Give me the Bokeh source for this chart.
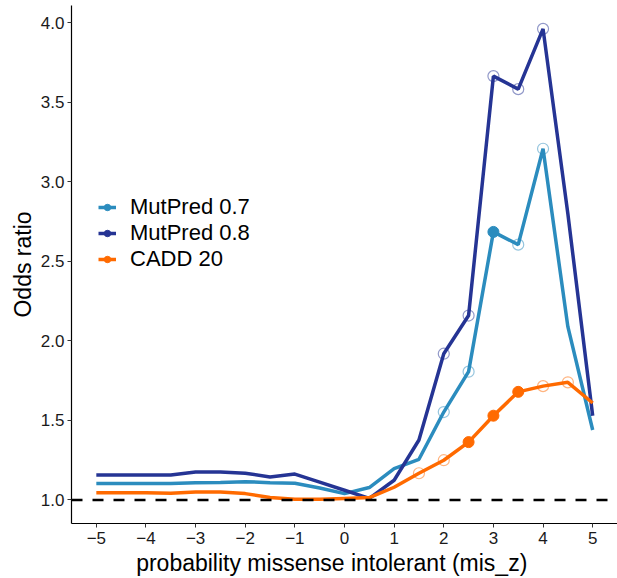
from bokeh.plotting import figure
from bokeh.models import Range1d, FixedTicker, CustomJSTickFormatter, NumeralTickFormatter, Span, Legend, LegendItem
from bokeh.embed import file_html
from bokeh.resources import INLINE

# ---- data ----
mis_z = [-5, -4.5, -4, -3.5, -3, -2.5, -2, -1.5, -1, -0.5, 0, 0.5, 1, 1.5, 2, 2.5, 3, 3.5, 4, 4.5, 5]
mutpred07 = [1.103, 1.103, 1.103, 1.103, 1.109, 1.110, 1.115, 1.109, 1.105, 1.075, 1.040, 1.078,
             1.197, 1.256, 1.553, 1.807, 2.686, 2.606, 3.209, 2.090, 1.440]
mutpred08 = [1.157, 1.157, 1.157, 1.157, 1.176, 1.176, 1.168, 1.145, 1.163, 1.112, 1.061, 1.010,
             1.124, 1.377, 1.920, 2.160, 3.666, 3.584, 3.963, 2.800, 1.530]
cadd20 = [1.046, 1.046, 1.046, 1.043, 1.050, 1.050, 1.040, 1.015, 1.005, 1.005, 1.010, 1.015,
          1.080, 1.168, 1.250, 1.364, 1.530, 1.680, 1.716, 1.740, 1.610]
series_names = ["MutPred 0.7", "MutPred 0.8", "CADD 20"]
# points marked significant (filled) or nominal (open)
mutpred07_filled = [3]
mutpred07_open = [2, 2.5, 3.5, 4]
mutpred08_filled = []
mutpred08_open = [2, 2.5, 3, 3.5, 4]
cadd20_filled = [2.5, 3, 3.5]
cadd20_open = [1.5, 2, 4, 4.5]
x_ticks = [-5, -4, -3, -2, -1, 0, 1, 2, 3, 4, 5]
y_ticks = [1.0, 1.5, 2.0, 2.5, 3.0, 3.5, 4.0]

colors = ["#2b8cbe", "#253494", "#ff6a00"]
FONT = "Liberation Sans"
NAN = float("nan")

p = figure(width=617, height=578, output_backend="svg", toolbar_location=None,
           x_range=Range1d(-5.5, 5.5), y_range=Range1d(0.852, 4.11),
           min_border_left=71, min_border_right=0, min_border_top=5, min_border_bottom=55)
p.outline_line_color = None
p.xgrid.visible = False
p.ygrid.visible = False
p.background_fill_color = "white"
p.border_fill_color = "white"

for ax in (p.xaxis[0], p.yaxis[0]):
    ax.axis_line_color = "black"
    ax.axis_line_width = 1.2
    ax.major_tick_line_color = "#333333"
    ax.major_tick_in = 0
    ax.major_tick_out = 4
    ax.minor_tick_line_color = None
    ax.major_label_text_font = FONT
    ax.major_label_text_font_size = "17px"
    ax.major_label_text_color = "#1a1a1a"
    ax.axis_label_text_font = FONT
    ax.axis_label_text_font_size = "23px"
    ax.axis_label_text_font_style = "normal"
    ax.axis_label_text_color = "black"

p.xaxis.ticker = FixedTicker(ticks=x_ticks)
p.xaxis.formatter = CustomJSTickFormatter(code="return tick < 0 ? '\u2212' + Math.abs(tick) : String(tick);")
p.xaxis.major_label_standoff = 4
p.xaxis.axis_label = "probability missense intolerant (mis_z)" + "\u00a0" * 4
p.xaxis.axis_label_standoff = 3

p.yaxis.ticker = FixedTicker(ticks=y_ticks)
p.yaxis.formatter = NumeralTickFormatter(format="0.0")
p.yaxis.major_label_standoff = 3
p.yaxis.axis_label = "Odds ratio"
p.yaxis.axis_label_standoff = 2

p.add_layout(Span(location=1.0, dimension="width", line_color="black",
                  line_width=2.6, line_dash="11 10"))

all_series = [mutpred07, mutpred08, cadd20]
filled_sets = [mutpred07_filled, mutpred08_filled, cadd20_filled]
open_sets = [mutpred07_open, mutpred08_open, cadd20_open]

items = []
for name, ys, col, fset, oset in zip(series_names, all_series, colors, filled_sets, open_sets):
    ln = p.line(mis_z, ys, line_color=col, line_width=3.5)
    fx = [x for x in fset] or [NAN]
    fy = [ys[mis_z.index(x)] for x in fset] or [NAN]
    ox = [x for x in oset]
    oy = [ys[mis_z.index(x)] for x in oset]
    fr = p.scatter(x=fx, y=fy, size=11, fill_color=col, line_color=col)
    p.scatter(x=ox, y=oy, size=11, fill_color=None, line_color=col, line_alpha=0.5, line_width=1.2)
    items.append(LegendItem(label=name, renderers=[ln, fr]))

legend = Legend(items=items, location=(27, 251), padding=0, margin=0, spacing=-5,
                border_line_color=None, background_fill_alpha=0,
                label_text_font=FONT, label_text_font_size="22px", label_text_color="black",
                glyph_width=18, glyph_height=16, label_height=16, label_standoff=14)
p.add_layout(legend, "center")

open("out.html", "w").write(file_html(p, INLINE))
